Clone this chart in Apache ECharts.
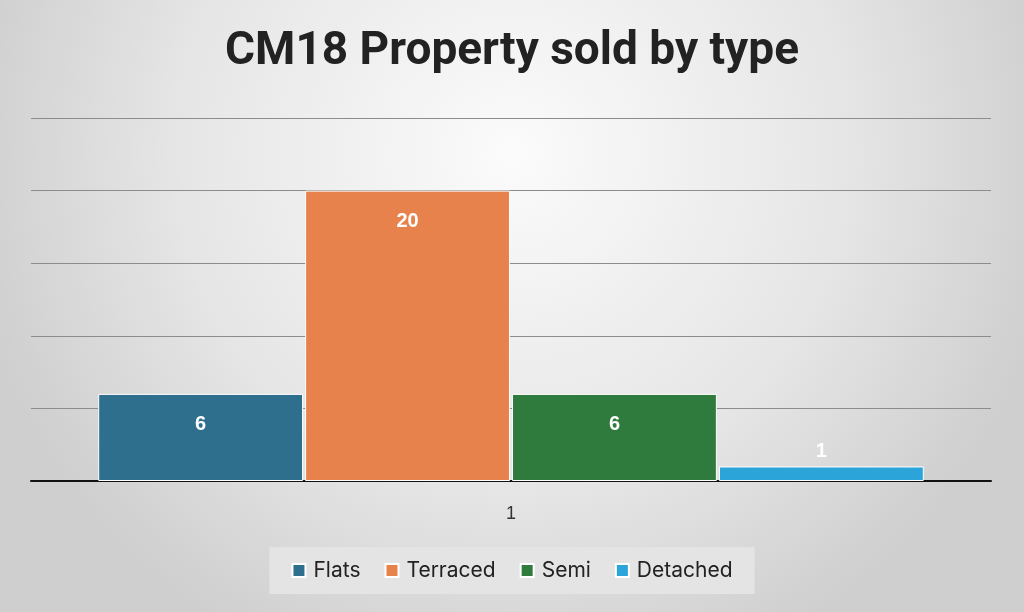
<!DOCTYPE html>
<html>
<head>
<meta charset="utf-8">
<script src="https://cdn.jsdelivr.net/npm/echarts@6/dist/echarts.min.js"></script>
<style>
html,body{margin:0;padding:0;width:1024px;height:612px;overflow:hidden;}
#c{width:1024px;height:612px;}
</style>
</head>
<body>
<div id="c"></div>
<script>
const titleText = 'CM18 Property sold by type';
const categories = ['1'];
const seriesNames = ['Flats', 'Terraced', 'Semi', 'Detached'];
const flats = [6];
const terraced = [20];
const semi = [6];
const detached = [1];
const colors = ['#2e6f8e', '#e8824d', '#2f7b3d', '#2ba4d9'];
const yTicks = { min: 0, max: 25, interval: 5 };

const values = [flats, terraced, semi, detached];
const chart = echarts.init(document.getElementById('c'));
const series = seriesNames.map((name, i) => ({
  name: name,
  type: 'bar',
  data: values[i],
  barGap: '1%',
  barCategoryGap: '14%',
  itemStyle: { color: colors[i], borderColor: '#ffffff', borderWidth: 1 },
  label: {
    show: true,
    position: values[i][0] >= 3 ? 'insideTop' : 'top',
    distance: values[i][0] >= 3 ? 21 : 5,
    color: '#ffffff',
    fontSize: 20,
    fontWeight: 'bold',
    fontFamily: 'Liberation Sans, Arial, sans-serif'
  }
}));

chart.setOption({
  backgroundColor: {
    type: 'radial', x: 0.5, y: 0.25, r: 0.9,
    colorStops: [
      { offset: 0, color: '#fbfbfb' },
      { offset: 0.6, color: '#e6e6e6' },
      { offset: 1, color: '#cfcfcf' }
    ]
  },
  color: colors,
  animation: false,
  title: {
    text: titleText,
    left: 'center',
    top: 24,
    textStyle: { fontSize: 46, fontWeight: 'bold', color: '#222222', fontFamily: 'Roboto, sans-serif' }
  },
  legend: {
    bottom: 18,
    left: 'center',
    backgroundColor: '#e4e4e4',
    padding: [13, 22, 13, 22],
    itemWidth: 13,
    itemHeight: 13,
    itemGap: 24,
    icon: 'rect',
    textStyle: { fontSize: 21, color: '#222222', fontFamily: 'Inter, Roboto, sans-serif', padding: [0, 0, 0, 3] },
    data: seriesNames
  },
  grid: { left: 31, right: 33, top: 118, bottom: 131, containLabel: false },
  xAxis: {
    type: 'category',
    data: categories,
    axisLine: { lineStyle: { color: '#111111', width: 2 } },
    axisTick: { show: false },
    axisLabel: { fontSize: 18, color: '#333333', margin: 24 }
  },
  yAxis: {
    type: 'value',
    min: yTicks.min, max: yTicks.max, interval: yTicks.interval,
    axisLabel: { show: false },
    axisLine: { show: false },
    axisTick: { show: false },
    splitLine: { lineStyle: { color: '#8c8c8c', width: 1 } }
  },
  series: series
});
</script>
</body>
</html>
